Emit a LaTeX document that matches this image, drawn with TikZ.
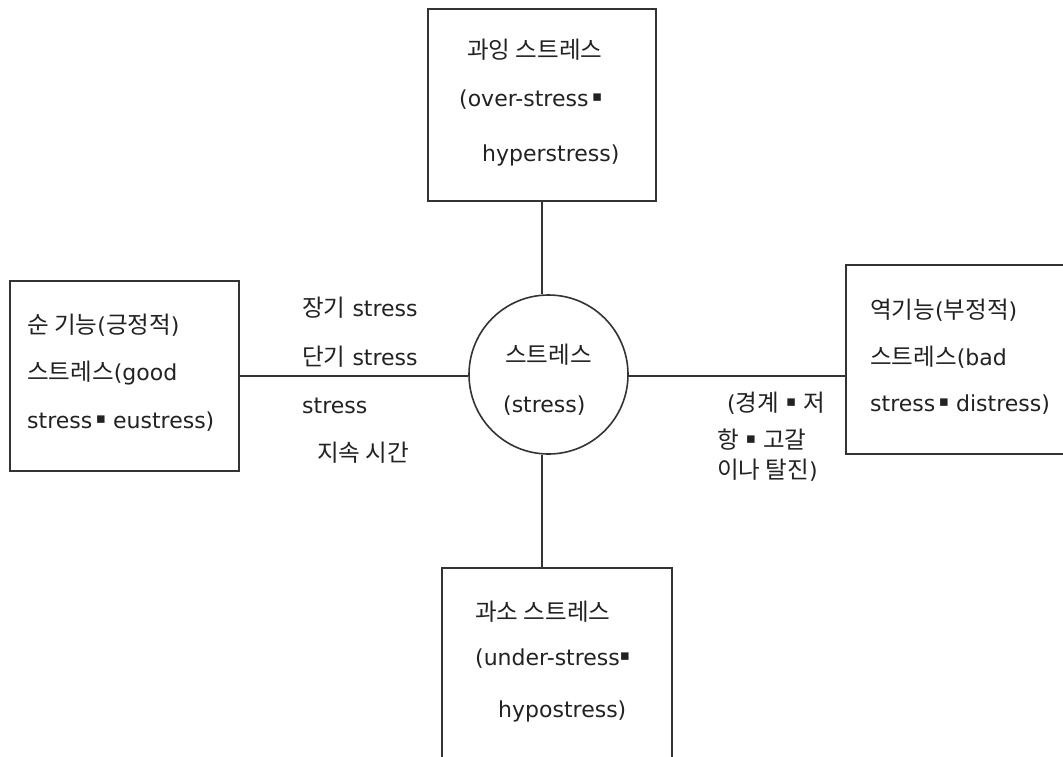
\documentclass[tikz,border=0pt]{standalone}
\usepackage{fontspec}
\setmainfont{DejaVu Sans}
\newfontfamily\krfont[Scale=1.07]{Noto Sans CJK KR}
\newcommand\kor[1]{{\krfont #1}}
% small square separator
\newcommand\sqsep{\raisebox{5pt}{\fontsize{15}{15}\selectfont ▪}}
\definecolor{ink}{HTML}{222222}
\definecolor{edge}{HTML}{333333}
\tikzset{
  box/.style={draw=edge, line width=1.6pt, anchor=north west, inner sep=0pt, minimum width=#1},
  conn/.style={draw=edge, line width=1.6pt},
  txt/.style={anchor=base west, inner sep=0pt, text=ink, font=\fontsize{22}{26}\selectfont},
}
\begin{document}
\begin{tikzpicture}[x=1pt, y=-1pt]
  \fill[white] (0,0) rectangle (1063,756);
  \useasboundingbox (0,0) rectangle (1063,756);
  \clip (0,0) rectangle (1063,756);

  % boxes around the centre
  \node[box=228pt, minimum height=192pt] (topbox)   at (427,8)   {};
  \node[box=229pt, minimum height=190pt] (leftbox)  at (9,280)   {};
  \node[box=232pt, minimum height=189pt] (rightbox) at (845,264) {};
  \node[box=230pt, minimum height=215pt] (botbox)   at (441,567) {};
  \node[circle, draw=edge, line width=1.6pt, inner sep=0pt, minimum size=159pt] (circ) at (548.5,374.5) {};

  % connector guides
  \coordinate (vx) at (542,375);
  \coordinate (hy) at (540,376);
  \draw[conn] (topbox.south -| vx) -- (circ.north -| vx);
  \draw[conn] (botbox.north -| vx) -- (circ.south -| vx);
  \draw[conn] (leftbox.east |- hy) -- (circ.west |- hy);
  \draw[conn] (circ.east |- hy) -- (rightbox.west |- hy);

  % top box
  \node[txt] (t1) at (467,58)  {\kor{과잉 스트레스}};
  \node[txt] (t2) at (459,106) {(over-stress\,\sqsep};
  \node[txt] (t3) at (482,161) {hyperstress)};

  % left box
  \node[txt] (l1) at (27,333) {\kor{순 기능}(\kor{긍정적})};
  \node[txt] (l2) at (27,380) {\kor{스트레스}(good};
  \node[txt] (l3) at (27,428) {stress\,\sqsep\ eustress)};

  % right box
  \node[txt] (r1) at (870,318) {\kor{역기능}(\kor{부정적})};
  \node[txt] (r2) at (870,365) {\kor{스트레스}(bad};
  \node[txt] (r3) at (870,411) {stress\,\sqsep\ distress)};

  % bottom box
  \node[txt] (b1) at (475,620) {\kor{과소 스트레스}};
  \node[txt] (b2) at (475,665) {(under-stress\sqsep};
  \node[txt] (b3) at (498,717) {hypostress)};

  % centre
  \node[txt] (c1) at (505,363) {\kor{스트레스}};
  \node[txt] (c2) at (503,412) {(stress)};

  % duration labels
  \node[txt] (d1) at (302,316) {\kor{장기} stress};
  \node[txt] (d2) at (302,365) {\kor{단기} stress};
  \node[txt] (d3) at (302,413) {stress};
  \node[txt] (d4) at (317,461) {\kor{지속 시간}};

  % stage labels
  \node[txt] (s1) at (727,411) {(\kor{경계} \sqsep\ \kor{저}};
  \node[txt] (s2) at (717,448) {\kor{항} \sqsep\ \kor{고갈}};
  \node[txt] (s3) at (717,478) {\kor{이나 탈진})};
\end{tikzpicture}
\end{document}
